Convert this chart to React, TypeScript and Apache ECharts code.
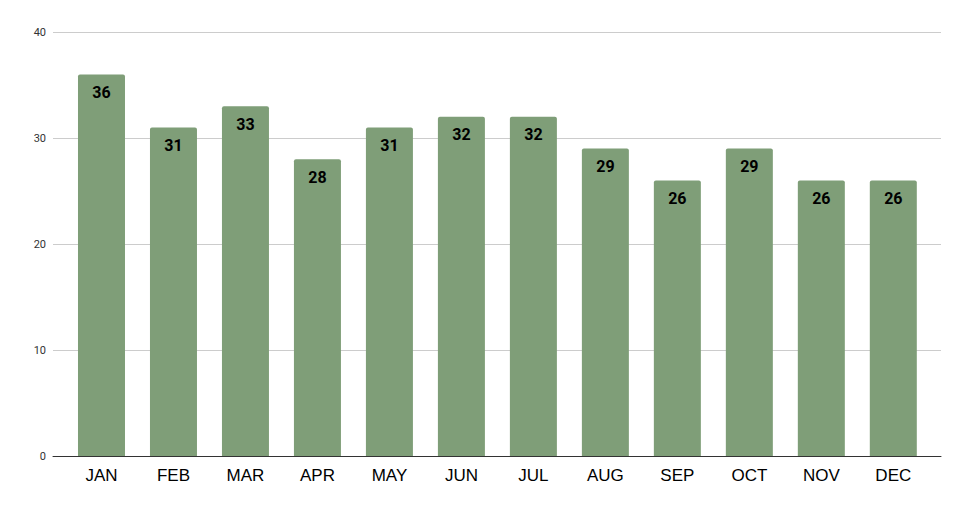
import React, { useEffect, useRef } from "react";
import * as echarts from "echarts";

const months = ["JAN", "FEB", "MAR", "APR", "MAY", "JUN", "JUL", "AUG", "SEP", "OCT", "NOV", "DEC"];
const values = [36, 31, 33, 28, 31, 32, 32, 29, 26, 29, 26, 26];
const yTicks = [0, 10, 20, 30, 40];

export default function App() {
  const ref = useRef<HTMLDivElement>(null);
  useEffect(() => {
    if (!ref.current) return;
    const chart = echarts.init(ref.current, null, { renderer: "svg" });
    chart.setOption({
      animation: false,
      backgroundColor: "#ffffff",
      grid: [
        { left: 53, right: 26, top: 32, bottom: 56 },
        { left: 65.5, right: 37.7, top: 32, bottom: 56 },
      ],
      xAxis: [
        {
          gridIndex: 0,
          type: "value",
          min: 0,
          max: 1,
          axisLine: { show: true, onZero: false, lineStyle: { color: "#333333", width: 1 } },
          axisTick: { show: false },
          axisLabel: { show: false },
          splitLine: { show: false },
        },
        {
          gridIndex: 1,
          type: "category",
          data: months,
          axisLine: { show: false },
          axisTick: { show: false },
          axisLabel: {
            color: "#000000",
            fontSize: 17,
            fontFamily: "Liberation Sans, Arial, sans-serif",
            margin: 11,
          },
        },
      ],
      yAxis: [
        {
          gridIndex: 0,
          type: "value",
          min: yTicks[0],
          max: yTicks[yTicks.length - 1],
          interval: 10,
          axisLine: { show: false },
          axisTick: { show: false },
          axisLabel: {
            color: "#333333",
            fontSize: 11,
            fontFamily: "Roboto, sans-serif",
            margin: 7,
          },
          splitLine: { lineStyle: { color: "#cccccc", width: 1 } },
        },
        {
          gridIndex: 1,
          type: "value",
          min: yTicks[0],
          max: yTicks[yTicks.length - 1],
          interval: 10,
          show: false,
          splitLine: { show: false },
        },
      ],
      series: [
        {
          type: "bar",
          xAxisIndex: 1,
          yAxisIndex: 1,
          data: values,
          barWidth: 47,
          itemStyle: { color: "#7f9e78", borderRadius: [2, 2, 0, 0] },
          label: {
            show: true,
            position: "insideTop",
            distance: 10,
            color: "#000000",
            fontSize: 16,
            fontWeight: "bold",
            fontFamily: "Roboto, sans-serif",
          },
        },
      ],
    });
    return () => chart.dispose();
  }, []);
  return (
    <div
      ref={ref}
      style={{ position: "fixed", left: 0, top: 0, width: 967, height: 512 }}
    />
  );
}
